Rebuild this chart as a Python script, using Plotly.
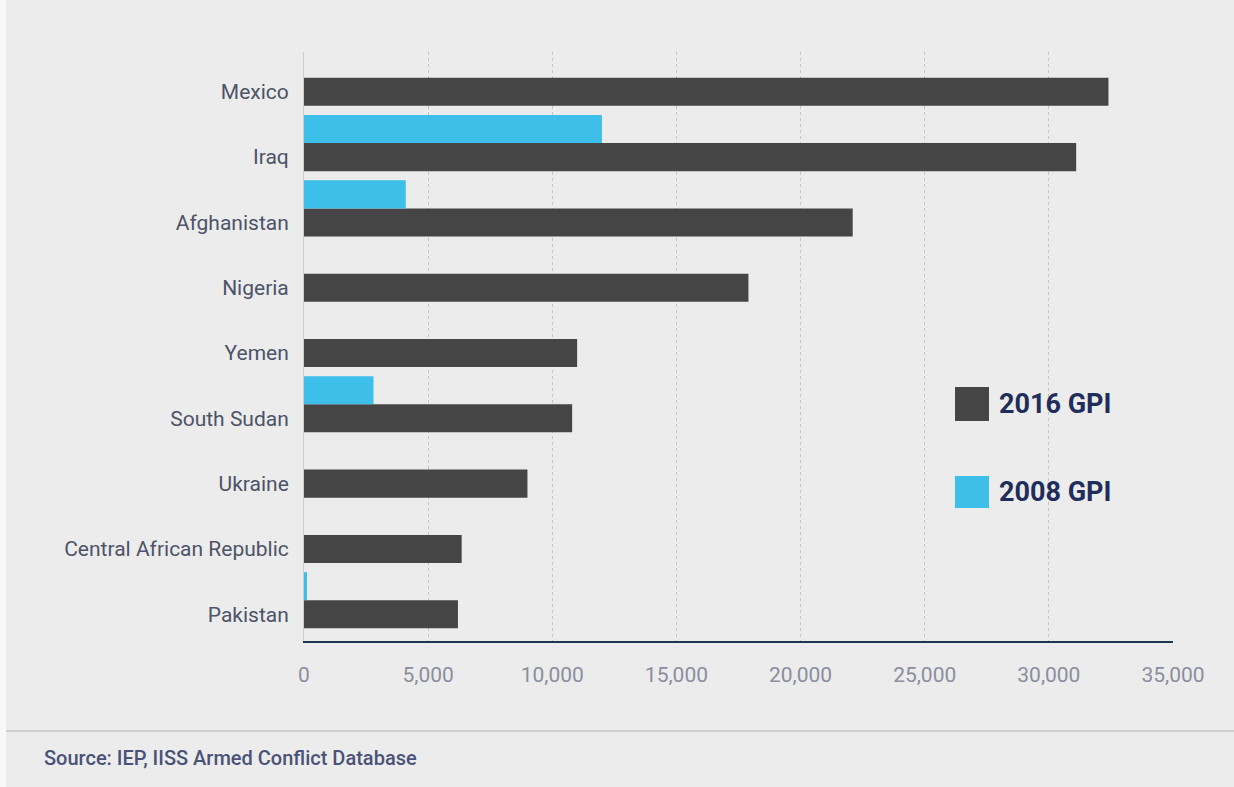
import plotly.graph_objects as go

countries = ["Mexico", "Iraq", "Afghanistan", "Nigeria", "Yemen", "South Sudan",
             "Ukraine", "Central African Republic", "Pakistan"]
gpi_2016 = [32400, 31100, 22100, 17900, 11000, 10800, 9000, 6350, 6200]
gpi_2008 = [0, 12000, 4100, 0, 0, 2800, 0, 0, 120]
x_ticks = [0, 5000, 10000, 15000, 20000, 25000, 30000, 35000]
x_tick_labels = ["0", "5,000", "10,000", "15,000", "20,000", "25,000", "30,000", "35,000"]

DARK = "#454545"
BLUE = "#3ebfe9"
BG = "#ececec"
BAR_W = 0.43

fig = go.Figure()
fig.add_trace(go.Bar(
    y=countries, x=gpi_2016, orientation="h", name="2016 GPI",
    marker=dict(color=DARK, line=dict(width=0)),
    width=BAR_W, offset=-BAR_W / 2, showlegend=False,
))
fig.add_trace(go.Bar(
    y=countries, x=gpi_2008, orientation="h", name="2008 GPI",
    marker=dict(color=BLUE, line=dict(width=0)),
    width=BAR_W, offset=-BAR_W * 1.5, showlegend=False,
))

font_fam = "Roboto, 'Liberation Sans', Arial, sans-serif"

fig.update_layout(
    width=1234, height=787,
    margin=dict(l=304, r=61, t=52, b=146),
    paper_bgcolor=BG, plot_bgcolor=BG,
    barmode="overlay",
    font=dict(family=font_fam),
    xaxis=dict(
        range=[0, 35000], tickvals=x_ticks, ticktext=x_tick_labels,
        showgrid=True, gridcolor="#c4c4c4", griddash="dot", gridwidth=1,
        zeroline=False, showline=True, linecolor="#1f3550", linewidth=2,
        ticks="", ticklabelstandoff=14,
        tickfont=dict(size=21, color="#8a8e9e", family=font_fam),
        fixedrange=True,
    ),
    yaxis=dict(
        categoryorder="array", categoryarray=countries,
        range=[8.41, -0.61], showgrid=False, zeroline=False,
        showline=True, linecolor="#cfcfcf", linewidth=1,
        ticks="", ticklabelstandoff=10,
        tickfont=dict(size=21, color="#4d5368", family=font_fam),
        fixedrange=True,
    ),
)

# pixel -> paper helpers (plot area spans x 304..1173, y 52..641)
def px_x(p):
    return (p - 304) / 869.0

def px_y(p):
    return (641 - p) / 589.0

legend_items = [("2016 GPI", DARK, 387, 421, 404), ("2008 GPI", BLUE, 476, 508, 492)]
for label, col, y0, y1, yc in legend_items:
    fig.add_shape(type="rect", xref="paper", yref="paper",
                  x0=px_x(955), x1=px_x(989), y0=px_y(y1), y1=px_y(y0),
                  fillcolor=col, line=dict(width=0))
    fig.add_annotation(text=label, xref="paper", yref="paper",
                       x=px_x(997), y=px_y(yc), xanchor="left", yanchor="middle",
                       showarrow=False,
                       font=dict(size=27, color="#1f2d5c", family=font_fam, weight="bold"))

# left light strip and separator line
fig.add_shape(type="rect", xref="paper", yref="paper",
              x0=px_x(0), x1=px_x(6), y0=px_y(787), y1=px_y(0),
              fillcolor="#f8f8f8", line=dict(width=0), layer="below")
fig.add_shape(type="line", xref="paper", yref="paper",
              x0=px_x(6), x1=px_x(1234), y0=px_y(731), y1=px_y(731),
              line=dict(color="#c6c6c6", width=1.5))

fig.add_annotation(text="Source: IEP, IISS Armed Conflict Database",
                   xref="paper", yref="paper", x=px_x(42), y=px_y(758),
                   xanchor="left", yanchor="middle", showarrow=False,
                   font=dict(size=20, color="#4a5278", family=font_fam, weight=500))

fig.write_html("out.html", config={"displayModeBar": False},
               post_script="document.body.style.margin='0';document.body.style.overflow='hidden';")
